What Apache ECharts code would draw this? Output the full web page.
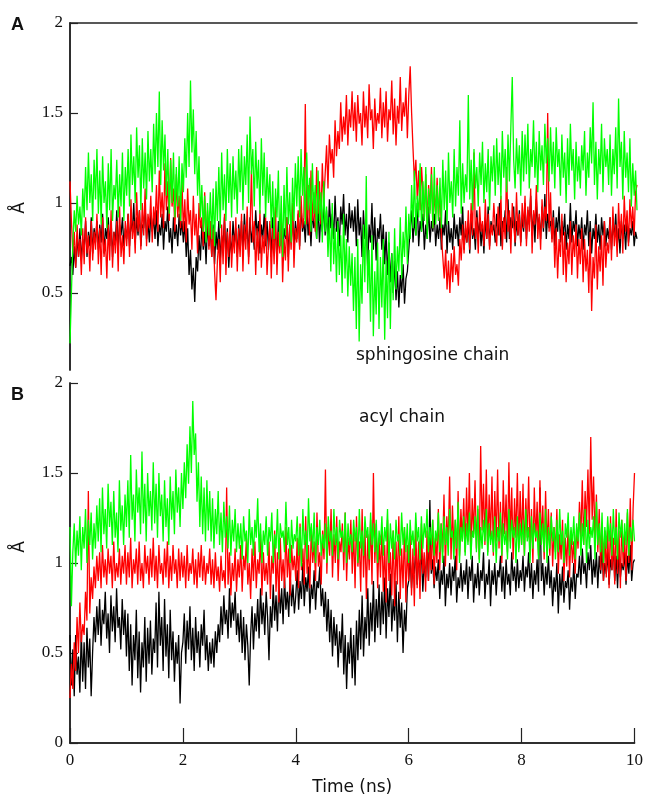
<!DOCTYPE html>
<html>
<head>
<meta charset="utf-8">
<script src="https://cdn.jsdelivr.net/npm/echarts@6/dist/echarts.min.js"></script>
<style>
  html, body { margin: 0; padding: 0; background: #fff; }
  #container { width: 646px; height: 798px; }
</style>
</head>
<body>
<div id="container"></div>
<script>
// sampling step of the traces (ns), 0..10 ns, one row = 0.5 ns
var step = 0.025;
var xTicks = [0, 2, 4, 6, 8, 10];
var yTicks = [0.5, 1, 1.5, 2];

// panel A - sphingosine chain
var aBlack = [
  0.65,0.7,0.6,0.76,0.64,0.82,0.7,0.86,0.68,0.8,0.74,0.9,0.7,0.84,0.76,0.92,0.72,0.86,0.78,0.9,
  0.74,0.88,0.78,0.94,0.72,0.86,0.8,0.92,0.76,0.9,0.7,0.84,0.78,0.96,0.74,0.88,0.82,0.92,0.76,0.86,
  0.8,0.94,0.76,0.9,0.84,1.0,0.78,0.92,0.82,0.96,0.76,0.88,0.86,0.98,0.8,0.9,0.78,0.94,0.84,0.92,
  0.8,0.96,0.76,0.88,0.82,0.94,0.74,0.9,0.84,0.98,0.78,0.86,0.72,0.92,0.8,0.88,0.76,0.94,0.82,0.9,
  0.78,0.9,0.7,0.86,0.6,0.74,0.52,0.64,0.45,0.7,0.62,0.82,0.68,0.88,0.74,0.84,0.66,0.9,0.76,0.86,
  0.7,0.88,0.66,0.84,0.74,0.9,0.68,0.82,0.76,0.92,0.7,0.86,0.64,0.8,0.72,0.9,0.78,0.86,0.7,0.88,
  0.76,0.9,0.72,0.94,0.8,0.88,0.7,0.92,0.78,0.86,0.74,0.96,0.82,0.9,0.72,0.88,0.8,0.94,0.76,0.9,
  0.74,0.88,0.7,0.92,0.78,0.84,0.68,0.9,0.76,0.94,0.72,0.86,0.8,0.92,0.7,0.88,0.78,0.95,0.74,0.9,
  0.8,0.94,0.76,0.98,0.84,0.9,0.78,1.0,0.82,0.92,0.76,0.96,0.86,0.9,0.8,0.98,0.78,0.94,0.84,1.0,
  0.82,0.96,0.78,1.02,0.86,0.94,0.8,1.04,0.84,0.92,0.76,0.98,0.88,1.05,0.82,0.94,0.78,1.0,0.86,0.96,
  0.84,0.98,0.76,1.02,0.82,0.92,0.7,0.96,0.8,0.9,0.64,0.88,0.78,1.0,0.74,0.92,0.68,0.86,0.8,0.94,
  0.74,0.88,0.66,0.84,0.6,0.78,0.56,0.72,0.5,0.68,0.46,0.62,0.42,0.6,0.5,0.66,0.44,0.58,0.62,0.74,
  0.86,0.96,0.78,0.92,0.82,1.0,0.76,0.9,0.84,0.94,0.74,0.88,0.8,0.98,0.78,0.9,0.84,0.94,0.76,0.88,
  0.8,0.92,0.74,0.88,0.82,0.96,0.72,0.9,0.78,0.86,0.74,0.94,0.8,0.88,0.76,0.92,0.82,0.98,0.74,0.86,
  0.78,0.9,0.72,0.94,0.8,0.86,0.74,0.96,0.82,0.9,0.76,0.88,0.72,0.92,0.8,0.98,0.76,0.9,0.84,0.88,
  0.78,0.94,0.82,1.0,0.76,0.9,0.84,0.96,0.78,1.02,0.8,0.92,0.86,0.98,0.76,0.9,0.82,0.96,0.78,0.92,
  0.84,1.0,0.8,0.96,0.88,1.04,0.82,0.94,0.78,1.02,0.86,0.92,0.8,0.98,0.84,1.05,0.8,0.94,0.86,0.9,
  0.8,0.96,0.76,0.92,0.84,0.98,0.78,0.9,0.82,0.94,0.74,0.88,0.8,1.0,0.78,0.9,0.84,0.96,0.76,0.88,
  0.8,0.92,0.74,0.88,0.82,0.96,0.76,0.9,0.72,0.86,0.8,0.94,0.78,0.88,0.74,0.92,0.82,0.9,0.76,0.86,
  0.8,0.92,0.74,0.88,0.82,0.94,0.76,0.86,0.72,0.9,0.8,0.88,0.74,0.92,0.78,0.86,0.82,0.9,0.76,0.84,
  0.8
];
var aRed = [
  1.12,0.9,0.72,0.84,0.64,0.88,0.7,0.8,0.6,0.86,0.66,0.92,0.72,0.82,0.62,0.9,0.68,0.84,0.74,0.94,
  0.66,0.86,0.6,0.92,0.7,0.8,0.58,0.88,0.68,0.96,0.64,0.84,0.72,0.9,0.62,0.98,0.7,0.82,0.66,0.9,
  0.76,0.94,0.7,1.02,0.8,0.9,0.72,1.06,0.84,0.96,0.74,1.0,0.82,1.08,0.76,0.94,0.86,1.04,0.78,0.98,
  0.88,1.1,0.84,1.18,0.92,1.06,0.86,1.22,0.96,1.12,0.9,1.25,0.98,1.08,0.84,1.16,0.92,1.04,0.86,1.12,
  0.84,1.02,0.78,1.08,0.88,0.96,0.74,1.04,0.82,0.94,0.72,1.0,0.86,0.92,0.76,1.06,0.8,0.96,0.74,0.9,
  0.7,0.86,0.62,0.46,0.68,0.8,0.56,0.88,0.66,0.94,0.6,0.84,0.7,0.9,0.64,0.82,0.72,0.92,0.62,0.86,
  0.7,0.94,0.62,0.88,0.74,0.98,0.66,0.84,1.18,0.78,0.9,0.6,0.86,0.68,0.96,0.64,0.82,0.72,0.92,0.6,
  0.76,0.9,0.58,0.86,0.66,0.98,0.6,0.84,0.72,0.94,0.56,0.8,0.68,0.92,0.62,0.88,0.74,1.0,0.64,0.86,
  0.78,0.96,0.74,1.04,0.86,0.92,1.55,0.88,1.1,0.82,1.18,0.9,1.06,0.84,1.2,0.94,1.12,0.88,1.22,1.0,
  1.16,1.32,1.08,1.38,1.22,1.3,1.14,1.46,1.26,1.4,1.3,1.56,1.34,1.48,1.38,1.6,1.32,1.52,1.42,1.62,
  1.4,1.56,1.34,1.6,1.44,1.5,1.32,1.62,1.42,1.54,1.36,1.66,1.46,1.52,1.3,1.58,1.4,1.5,1.44,1.64,
  1.36,1.56,1.42,1.62,1.34,1.52,1.46,1.68,1.38,1.58,1.32,1.54,1.44,1.7,1.4,1.56,1.48,1.64,1.36,1.6,
  1.76,1.5,1.3,1.12,1.24,1.02,1.18,0.96,1.2,1.06,0.92,1.16,0.88,1.1,0.96,1.2,0.86,1.06,0.94,1.14,
  0.9,1.08,0.82,0.7,0.58,0.74,0.52,0.68,0.5,0.72,0.56,0.76,0.6,0.66,0.54,0.8,0.68,0.88,0.72,0.9,
  0.78,0.96,0.74,1.0,0.82,1.28,0.8,0.92,0.72,0.98,0.84,0.9,0.76,1.02,0.8,0.94,0.74,0.88,0.82,1.0,
  0.86,0.76,0.98,0.82,1.04,0.74,0.92,0.8,1.2,0.84,0.96,0.72,1.0,0.88,0.78,1.06,0.82,0.94,0.76,1.0,
  0.86,1.04,0.76,0.98,0.84,1.08,0.72,0.96,0.88,1.1,0.8,0.94,0.74,1.02,0.86,0.98,0.9,1.5,0.84,1.06,
  0.78,0.92,0.64,0.86,0.58,0.8,0.7,0.94,0.6,0.84,0.56,0.78,0.66,0.9,0.6,0.82,0.7,0.88,0.58,0.8,
  0.66,0.86,0.56,0.8,0.62,0.74,0.5,0.84,0.4,0.7,0.58,0.88,0.52,0.76,0.62,0.82,0.54,0.9,0.64,0.78,
  0.72,0.92,0.68,0.98,0.76,0.88,0.7,1.0,0.8,0.94,0.72,1.04,0.84,0.96,0.76,1.02,0.86,0.98,0.82,1.06,
  1.1
];
var aGreen = [
  0.22,0.5,0.78,0.96,0.84,1.04,0.88,0.98,0.82,1.08,0.92,1.2,0.96,1.28,1.0,1.16,0.9,1.24,1.02,1.3,
  0.94,1.18,0.88,1.26,1.0,1.12,0.86,1.22,0.96,1.3,0.9,1.1,1.02,1.24,0.92,1.16,0.98,1.28,0.9,1.2,
  1.04,1.3,0.98,1.38,1.1,1.26,1.0,1.42,1.14,1.32,0.96,1.36,1.08,1.28,1.02,1.4,1.12,1.3,1.06,1.44,
  1.16,1.5,1.2,1.62,1.1,1.46,1.18,1.38,1.04,1.3,0.94,1.24,1.0,1.28,0.92,1.2,0.98,1.26,0.9,1.22,
  1.06,1.36,1.14,1.5,1.2,1.68,1.28,1.52,1.16,1.4,1.04,1.26,0.92,1.1,0.84,1.04,0.78,1.0,0.82,1.06,
  0.8,1.08,0.76,1.12,0.9,1.2,0.86,1.28,0.96,1.16,0.9,1.3,1.0,1.22,0.92,1.26,1.02,1.18,0.94,1.3,
  1.06,1.32,0.96,1.26,1.1,1.38,1.0,1.48,1.16,1.3,0.98,1.34,1.08,1.24,0.94,1.36,1.04,1.28,0.92,1.2,
  1.0,1.16,0.86,1.12,0.8,1.08,0.92,1.18,0.76,1.04,0.7,1.1,0.82,1.2,0.88,1.06,0.78,1.14,0.9,1.22,
  0.98,1.26,0.92,1.3,1.04,1.2,0.88,1.28,0.96,1.14,0.84,1.22,0.94,1.1,0.8,1.18,0.9,1.06,0.78,1.12,
  0.84,0.98,0.7,0.92,0.62,1.0,0.66,0.86,0.56,0.9,0.6,0.82,0.5,0.94,0.58,0.8,0.48,0.76,0.54,0.72,
  0.4,0.7,0.3,0.8,0.23,0.66,0.44,0.88,0.56,1.15,0.5,0.74,0.34,0.82,0.26,0.62,0.38,0.78,0.3,0.7,
  0.42,0.8,0.24,0.68,0.36,0.84,0.3,0.72,0.46,0.86,0.52,0.76,0.62,0.92,0.58,0.84,0.7,0.98,0.66,0.94,
  0.8,1.1,0.86,1.18,0.82,1.04,0.92,1.22,0.84,1.12,0.9,1.2,0.8,1.08,0.94,1.16,0.86,1.2,0.88,1.1,
  0.9,1.14,0.86,1.24,0.96,1.18,0.88,1.28,1.0,1.12,0.92,1.3,0.98,1.2,1.04,1.46,0.94,1.22,1.0,1.16,
  1.06,1.6,1.02,1.24,0.96,1.3,1.08,1.2,0.98,1.28,1.1,1.34,1.0,1.22,1.06,1.3,0.96,1.26,1.12,1.32,
  1.04,1.36,1.1,1.28,1.02,1.4,1.14,1.3,1.06,1.38,1.12,1.42,1.7,1.24,1.08,1.36,1.16,1.32,1.04,1.4,
  1.12,1.38,1.16,1.44,1.08,1.3,1.2,1.46,1.14,1.34,1.06,1.4,1.18,1.32,1.1,1.44,1.22,1.36,1.12,1.42,
  1.16,1.34,1.08,1.42,1.2,1.3,1.04,1.38,1.14,1.28,1.0,1.36,1.1,1.44,1.18,1.3,1.02,1.34,1.12,1.26,
  1.08,1.32,1.18,1.4,1.04,1.28,1.14,1.42,1.22,1.56,1.1,1.34,1.02,1.3,1.16,1.44,1.06,1.36,1.2,1.3,
  1.1,1.38,1.04,1.3,1.16,1.42,1.08,1.58,1.2,1.34,1.02,1.4,1.14,1.28,1.06,1.36,0.98,1.22,1.04,1.18,
  0.96
];

// panel B - acyl chain
var bBlack = [
  0.6,0.32,0.52,0.26,0.6,0.38,0.48,0.28,0.62,0.34,0.56,0.3,0.64,0.42,0.58,0.26,0.5,0.7,0.56,0.76,
  0.6,0.8,0.54,0.74,0.66,0.84,0.58,0.72,0.5,0.82,0.62,0.76,0.56,0.86,0.64,0.7,0.52,0.8,0.6,0.74,
  0.48,0.72,0.4,0.66,0.32,0.6,0.46,0.74,0.36,0.62,0.28,0.56,0.42,0.7,0.34,0.64,0.44,0.68,0.38,0.58,
  0.5,0.78,0.42,0.84,0.54,0.7,0.4,0.8,0.48,0.66,0.36,0.74,0.46,0.62,0.34,0.56,0.44,0.6,0.22,0.5,
  0.56,0.72,0.44,0.68,0.52,0.76,0.46,0.64,0.4,0.7,0.5,0.62,0.42,0.66,0.54,0.74,0.46,0.6,0.4,0.56,
  0.44,0.58,0.42,0.62,0.5,0.66,0.56,0.76,0.6,0.82,0.66,0.74,0.58,0.86,0.64,0.78,0.68,0.84,0.6,0.72,
  0.56,0.74,0.5,0.7,0.46,0.66,0.54,0.32,0.6,0.76,0.52,0.72,0.62,0.8,0.58,0.86,0.66,0.78,0.6,0.84,
  0.7,0.46,0.76,0.64,0.88,0.68,0.82,0.62,0.9,0.72,0.86,0.66,0.92,0.74,0.84,0.7,0.94,0.76,0.88,0.72,
  0.82,0.96,0.74,0.9,0.8,1.0,0.76,0.92,0.84,0.98,0.72,0.88,0.8,0.96,0.74,0.9,0.86,0.98,0.76,0.86,
  0.7,0.84,0.62,0.8,0.56,0.74,0.48,0.7,0.54,0.66,0.42,0.62,0.5,0.72,0.38,0.6,0.3,0.56,0.44,0.64,
  0.36,0.6,0.32,0.68,0.46,0.74,0.52,0.82,0.48,0.7,0.58,0.86,0.54,0.78,0.62,0.9,0.56,0.8,0.64,0.88,
  0.6,0.84,0.66,0.92,0.58,0.86,0.7,0.94,0.62,0.8,0.68,0.9,0.56,0.84,0.64,0.78,0.5,0.74,0.62,0.86,
  0.9,1.04,0.86,1.0,0.94,1.08,0.88,1.02,0.96,1.06,0.84,1.0,0.92,1.1,0.9,1.35,0.94,1.02,0.86,0.98,
  0.9,1.02,0.8,0.96,0.88,1.04,0.76,0.94,0.86,1.0,0.82,0.98,0.9,1.04,0.78,0.92,0.86,1.0,0.84,0.96,
  0.88,1.02,0.8,0.98,0.9,1.04,0.78,0.94,0.86,1.0,0.82,0.96,0.9,1.06,0.8,0.94,0.88,1.02,0.76,0.96,
  0.88,1.0,0.82,0.96,0.92,1.04,0.84,0.98,0.8,1.02,0.88,0.94,0.82,1.06,0.9,0.98,0.84,1.02,0.86,0.96,
  0.9,1.04,0.84,0.98,0.92,1.06,0.86,1.0,0.8,0.96,0.88,1.02,0.84,1.42,0.9,1.0,0.82,0.98,0.88,1.04,
  0.86,0.96,0.76,0.92,0.84,1.0,0.72,0.94,0.82,0.98,0.78,0.9,0.86,0.96,0.74,0.92,0.84,1.0,0.8,0.94,
  0.92,1.04,0.88,1.08,0.94,1.0,0.86,1.06,0.96,1.1,0.88,1.02,0.92,1.06,0.86,1.04,0.94,1.08,0.9,1.0,
  0.94,1.06,0.88,1.02,0.96,1.1,0.9,1.04,0.86,1.08,0.92,1.0,0.96,1.06,0.88,1.04,0.94,1.1,0.9,1.0,
  1.02
];
var bRed = [
  0.25,0.44,0.3,0.56,0.4,0.7,0.5,0.78,0.56,0.66,0.6,0.84,0.68,1.4,0.72,0.92,0.8,0.98,0.86,1.04,
  0.9,1.06,0.86,1.1,0.92,1.02,0.88,1.08,0.94,1.04,0.86,1.12,0.9,1.0,0.92,1.08,0.88,1.04,0.94,1.1,
  0.88,1.06,0.92,1.14,0.86,1.02,0.94,1.08,0.88,1.12,0.9,1.0,0.86,1.1,0.94,1.04,0.88,1.08,0.92,1.14,
  0.9,1.04,0.86,1.1,0.94,1.0,0.88,1.08,0.92,1.12,0.86,1.04,0.9,1.1,0.94,1.02,0.86,1.08,0.9,1.06,
  0.92,1.04,0.86,1.1,0.9,1.0,0.94,1.08,0.88,1.02,0.86,1.06,0.92,1.1,0.9,1.04,0.88,1.0,0.94,1.08,
  0.88,1.02,0.86,1.06,0.9,0.98,0.84,1.04,0.9,0.96,0.86,1.42,0.88,1.06,0.82,1.0,0.9,1.08,0.84,1.02,
  0.92,1.1,0.84,1.04,0.96,1.14,0.88,1.0,0.8,1.08,0.9,1.12,0.86,1.02,0.94,1.16,0.82,1.06,0.9,1.0,
  0.88,1.12,0.8,1.04,0.94,1.18,0.84,1.06,0.78,1.14,0.9,1.02,0.86,1.2,0.92,1.08,0.82,1.1,0.96,1.04,
  0.9,1.14,0.86,1.22,0.96,1.08,0.88,1.26,0.94,1.1,0.86,1.2,1.0,1.12,0.9,1.28,0.98,1.06,0.88,1.18,
  1.02,1.52,0.94,1.2,1.04,1.3,0.92,1.16,1.0,1.26,0.9,1.12,1.06,1.22,0.96,1.28,0.9,1.14,1.02,1.24,
  0.94,1.18,0.86,1.26,0.98,1.12,0.84,1.3,0.92,1.2,0.8,1.16,0.96,1.24,0.88,1.5,1.0,1.22,0.86,1.14,
  0.92,1.2,0.84,1.1,0.78,1.24,0.9,1.06,0.82,1.18,0.76,1.12,0.88,1.26,0.8,1.08,0.86,1.2,0.78,1.1,
  0.9,1.16,0.82,1.08,0.76,1.2,0.86,1.12,0.8,1.22,0.94,1.06,0.84,1.18,0.9,1.1,0.96,1.24,0.88,1.14,
  1.0,1.3,0.96,1.22,1.06,1.38,0.98,1.26,1.1,1.48,1.02,1.32,1.08,1.24,0.96,1.4,1.04,1.3,1.12,1.36,
  1.06,1.42,1.12,1.5,1.04,1.36,1.16,1.46,1.08,1.3,1.02,1.65,1.18,1.44,1.1,1.52,1.06,1.38,1.14,1.48,
  1.04,1.4,1.12,1.52,1.08,1.34,1.0,1.46,1.16,1.38,1.06,1.56,1.12,1.42,1.02,1.36,1.14,1.5,1.08,1.4,
  1.1,1.44,1.04,1.36,1.14,1.48,1.06,1.3,1.0,1.42,1.12,1.34,1.04,1.46,1.1,1.32,1.02,1.4,1.08,1.3,
  1.04,1.28,0.98,1.2,1.06,1.3,0.94,1.16,1.02,1.24,0.9,1.14,0.98,1.22,0.92,1.18,1.0,1.12,0.94,1.2,
  1.08,1.34,1.14,1.46,1.1,1.4,1.2,1.52,1.16,1.7,1.24,1.48,1.12,1.38,1.06,1.3,0.96,1.22,0.9,1.18,
  0.92,1.2,0.86,1.26,0.96,1.14,0.88,1.3,0.94,1.18,0.86,1.24,0.98,1.16,0.9,1.28,1.0,1.36,0.96,1.3,
  1.5
];
var bGreen = [
  1.2,0.76,1.06,1.22,0.98,1.18,1.04,1.26,0.96,1.2,1.08,1.3,1.0,1.24,1.1,1.28,1.02,1.22,1.08,1.32,
  1.12,1.36,1.06,1.42,1.16,1.3,1.08,1.44,1.2,1.34,1.1,1.4,1.14,1.28,1.06,1.46,1.18,1.32,1.1,1.38,
  1.2,1.46,1.14,1.6,1.24,1.38,1.12,1.52,1.28,1.42,1.16,1.62,1.22,1.44,1.12,1.5,1.26,1.4,1.18,1.56,
  1.22,1.44,1.14,1.5,1.26,1.38,1.12,1.46,1.2,1.36,1.1,1.48,1.24,1.4,1.16,1.52,1.28,1.42,1.2,1.5,
  1.3,1.56,1.36,1.66,1.44,1.76,1.5,1.9,1.6,1.72,1.34,1.56,1.2,1.48,1.16,1.42,1.12,1.46,1.18,1.4,
  1.12,1.36,1.08,1.3,1.16,1.4,1.1,1.28,1.06,1.34,1.14,1.26,1.08,1.32,1.04,1.24,1.12,1.3,1.06,1.22,
  1.08,1.22,1.02,1.26,1.12,1.18,1.0,1.3,1.1,1.2,1.04,1.24,1.14,1.36,1.06,1.22,1.0,1.18,1.1,1.26,
  1.04,1.2,1.12,1.28,1.0,1.16,1.08,1.3,1.02,1.22,1.14,1.18,1.06,1.34,1.1,1.2,1.0,1.24,1.08,1.16,
  1.12,1.26,1.04,1.2,0.98,1.3,1.1,1.18,1.02,1.36,1.12,1.22,1.06,1.28,1.0,1.2,1.1,1.24,1.04,1.16,
  1.08,1.22,1.0,1.26,1.12,1.18,1.04,1.3,1.1,1.2,1.02,1.24,1.14,1.18,1.06,1.28,1.0,1.22,1.1,1.16,
  1.06,1.24,1.12,1.2,1.0,1.3,1.08,1.18,1.04,1.26,1.14,1.2,1.02,1.28,1.1,1.22,1.06,1.24,1.0,1.18,
  1.1,1.26,1.04,1.2,1.12,1.3,1.0,1.22,1.08,1.18,1.02,1.24,1.12,1.16,1.04,1.28,1.1,1.2,1.06,1.22,
  1.0,1.24,1.1,1.18,1.04,1.28,1.12,1.2,1.02,1.26,1.08,1.22,1.14,1.3,1.06,1.2,1.1,1.24,1.04,1.18,
  1.12,1.28,1.06,1.22,1.0,1.26,1.1,1.2,1.04,1.3,1.14,1.18,1.02,1.24,1.08,1.34,1.0,1.2,1.12,1.26,
  1.04,1.22,1.1,1.28,1.02,1.18,1.14,1.26,1.06,1.32,1.0,1.2,1.08,1.24,1.12,1.3,1.04,1.22,1.1,1.18,
  1.06,1.26,1.0,1.2,1.12,1.28,1.04,1.22,1.1,1.18,1.02,1.3,1.08,1.24,1.14,1.2,1.0,1.26,1.06,1.22,
  1.1,1.24,1.04,1.3,1.12,1.2,1.0,1.26,1.08,1.22,1.14,1.18,1.02,1.28,1.1,1.22,1.06,1.3,1.0,1.2,
  1.08,1.26,1.12,1.2,1.02,1.24,1.06,1.3,1.1,1.18,1.0,1.22,1.14,1.28,1.04,1.2,1.1,1.26,1.02,1.22,
  1.12,1.28,1.04,1.22,1.1,1.3,1.0,1.24,1.08,1.2,1.14,1.26,1.02,1.34,1.1,1.22,1.06,1.28,1.0,1.2,
  1.08,1.26,1.12,1.22,1.04,1.3,1.1,1.2,1.02,1.28,1.14,1.24,1.06,1.22,1.1,1.3,1.04,1.2,1.12,1.24,
  1.12
];

var dom = document.getElementById('container');
var myChart = echarts.init(dom, null, { renderer: 'canvas' });

function pairs(arr) {
  return arr.map(function (v, i) { return [+(i * step).toFixed(3), v]; });
}

var axisColor = '#222';
var serif = 'Liberation Serif';
var sans = 'DejaVu Sans';

function line(name, data, color, gi) {
  return {
    name: name,
    type: 'line',
    xAxisIndex: gi * 2,
    yAxisIndex: gi * 2,
    data: pairs(data),
    showSymbol: false,
    symbol: 'none',
    lineStyle: { color: color, width: 1.3 },
    itemStyle: { color: color },
    clip: true,
    silent: true
  };
}

var option = {
  animation: false,
  backgroundColor: '#fff',
  grid: [
    { left: 70, right: 9, top: 23, height: 347 },
    { left: 70, right: 9, top: 383, height: 360 }
  ],
  xAxis: [
    // panel A: only the top border, no bottom axis
    {
      gridIndex: 0, type: 'value', min: 0, max: 10, position: 'top',
      axisLine: { show: true, lineStyle: { color: axisColor, width: 1.5 } },
      axisTick: { show: false }, axisLabel: { show: false }, splitLine: { show: false }
    },
    {
      gridIndex: 0, type: 'value', min: 0, max: 10, position: 'bottom', show: false
    },
    // panel B: time axis
    {
      gridIndex: 1, type: 'value', min: 0, max: 10, interval: 2, position: 'bottom',
      name: 'Time (ns)', nameLocation: 'middle', nameGap: 36,
      nameTextStyle: { fontFamily: sans, fontSize: 17, color: '#111' },
      axisLine: { show: true, lineStyle: { color: axisColor, width: 1.5 } },
      axisTick: { show: true, inside: true, length: 15, lineStyle: { color: axisColor, width: 1.2 } },
      axisLabel: { fontFamily: serif, fontSize: 17, color: '#111', margin: 9,
        customValues: xTicks },
      splitLine: { show: false }
    },
    {
      gridIndex: 1, type: 'value', min: 0, max: 10, position: 'top',
      axisLine: { show: true, lineStyle: { color: axisColor, width: 1.5 } },
      axisTick: { show: false }, axisLabel: { show: false }, splitLine: { show: false }
    }
  ],
  yAxis: [
    {
      gridIndex: 0, type: 'value', min: 0.072, max: 2, position: 'left',
      axisLine: { show: true, lineStyle: { color: axisColor, width: 1.5 } },
      axisTick: { show: true, inside: true, length: 8, customValues: yTicks,
        lineStyle: { color: axisColor, width: 1.2 } },
      axisLabel: { fontFamily: serif, fontSize: 17, color: '#111', margin: 7,
        customValues: yTicks },
      splitLine: { show: false }
    },
    {
      gridIndex: 0, type: 'value', min: 0.072, max: 2, position: 'right',
      axisLine: { show: true, lineStyle: { color: axisColor, width: 1.5 } },
      axisTick: { show: false }, axisLabel: { show: false }, splitLine: { show: false }
    },
    {
      gridIndex: 1, type: 'value', min: 0, max: 2, interval: 0.5, position: 'left',
      axisLine: { show: true, lineStyle: { color: axisColor, width: 1.5 } },
      axisTick: { show: true, inside: true, length: 8, lineStyle: { color: axisColor, width: 1.2 } },
      axisLabel: { fontFamily: serif, fontSize: 17, color: '#111', margin: 7 },
      splitLine: { show: false }
    },
    {
      gridIndex: 1, type: 'value', min: 0, max: 2, position: 'right',
      axisLine: { show: true, lineStyle: { color: axisColor, width: 1.5 } },
      axisTick: { show: false }, axisLabel: { show: false }, splitLine: { show: false }
    }
  ],
  series: [
    line('A black', aBlack, '#000000', 0),
    line('A red', aRed, '#ff0000', 0),
    line('A green', aGreen, '#00ff00', 0),
    line('B black', bBlack, '#000000', 1),
    line('B red', bRed, '#ff0000', 1),
    line('B green', bGreen, '#00ff00', 1)
  ],
  graphic: [
    { type: 'text', left: 11, top: 16, style: { text: 'A', font: 'bold 18px "Liberation Sans"', fill: '#111' } },
    { type: 'text', left: 11, top: 386, style: { text: 'B', font: 'bold 18px "Liberation Sans"', fill: '#111' } },
    { type: 'text', x: 20, y: 208, rotation: Math.PI / 2,
      style: { text: 'Å', font: '17px "DejaVu Sans"', fill: '#111', align: 'center', verticalAlign: 'middle' } },
    { type: 'text', x: 20, y: 547, rotation: Math.PI / 2,
      style: { text: 'Å', font: '17px "DejaVu Sans"', fill: '#111', align: 'center', verticalAlign: 'middle' } },
    { type: 'text', x: 356, y: 356, z: 10,
      style: { text: 'sphingosine chain', font: '17px "DejaVu Sans"', fill: '#111', verticalAlign: 'middle' } },
    { type: 'text', x: 359, y: 418, z: 10,
      style: { text: 'acyl chain', font: '17px "DejaVu Sans"', fill: '#111', verticalAlign: 'middle' } }
  ]
};

myChart.setOption(option);
</script>
</body>
</html>
